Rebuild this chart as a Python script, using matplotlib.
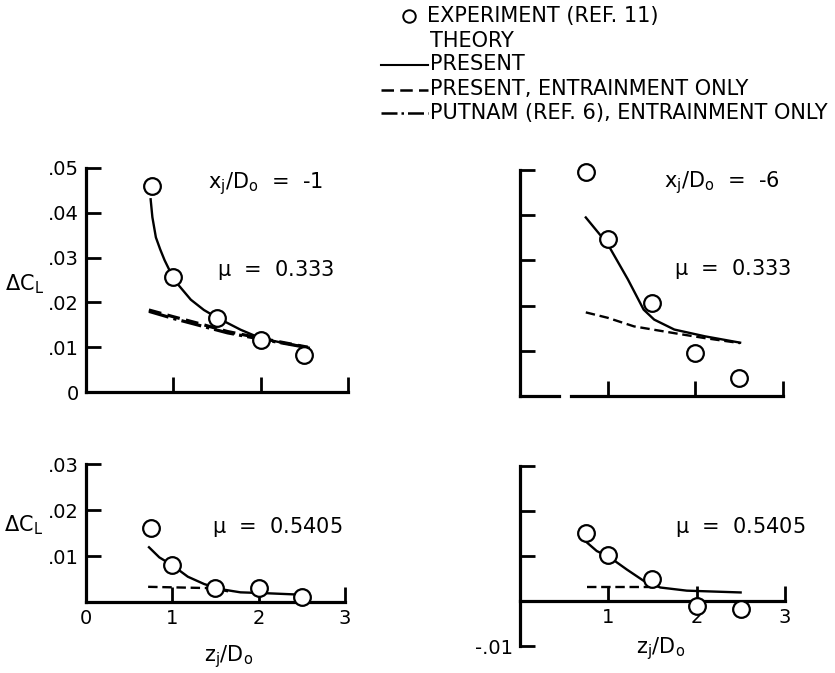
import matplotlib
matplotlib.use("Agg")
import matplotlib.pyplot as plt
from matplotlib.lines import Line2D

plt.rcParams['font.family'] = ['DejaVu Sans']
plt.rcParams['mathtext.default'] = 'regular'

# experiment (ref. 11)
x_exp = [0.75, 1.0, 1.5, 2.0, 2.5]
exp_tl = [0.046, 0.0257, 0.0166, 0.0116, 0.0083]
exp_tr = [0.0495, 0.0347, 0.0205, 0.0095, 0.004]
exp_bl = [0.016, 0.008, 0.003, 0.003, 0.001]
exp_br = [0.015, 0.0103, 0.005, -0.001, -0.0018]

# theory, present (solid)
x_pres_tl = [0.74, 0.76, 0.8, 0.85, 0.9, 0.95, 1.04, 1.2, 1.35, 1.5, 1.77, 2.0, 2.27, 2.55]
pres_tl = [0.043, 0.039, 0.0345, 0.0318, 0.0294, 0.0274, 0.0243, 0.0206, 0.0183, 0.0166, 0.0139, 0.012, 0.0109, 0.0099]
x_pres_tr = [0.75, 1.0, 1.23, 1.41, 1.53, 1.76, 2.11, 2.51]
pres_tr = [0.0395, 0.0336, 0.0258, 0.0191, 0.0169, 0.0147, 0.0132, 0.0118]
x_pres_bl = [0.73, 0.85, 1.0, 1.18, 1.37, 1.56, 1.79, 2.1, 2.48]
pres_bl = [0.0119, 0.0097, 0.008, 0.0055, 0.0039, 0.0028, 0.0021, 0.0019, 0.0016]
x_pres_br = [0.74, 0.87, 1.01, 1.21, 1.4, 1.59, 1.89, 2.5]
pres_br = [0.0133, 0.0111, 0.0098, 0.007, 0.0045, 0.003, 0.0023, 0.0019]

# theory, present, entrainment only (dashed)
x_ent_tl = [0.72, 1.0, 1.31, 1.62, 2.0, 2.54]
ent_tl = [0.0183, 0.0168, 0.0152, 0.0135, 0.012, 0.01]
x_ent_tr = [0.75, 1.0, 1.3, 1.76, 2.11, 2.51]
ent_tr = [0.0185, 0.0173, 0.0154, 0.0139, 0.0128, 0.0117]
x_ent_bl = [0.72, 1.48, 1.7]
ent_bl = [0.0033, 0.003, 0.0021]
x_ent_br = [0.76, 1.48]
ent_br = [0.0032, 0.0032]

# theory, Putnam (ref. 6), entrainment only (dash-dot)
x_put_tl = [0.72, 1.0, 1.31, 1.62, 2.0, 2.54]
put_tl = [0.018, 0.0164, 0.0148, 0.0132, 0.0118, 0.0099]

fig = plt.figure(figsize=(8.35, 6.73), dpi=100)

ax_tl = fig.add_axes([0.103, 0.4175, 0.3138, 0.333])
ax_tr = fig.add_axes([0.6228, 0.4116, 0.315, 0.3358])
ax_bl = fig.add_axes([0.103, 0.1055, 0.310, 0.205])
ax_br = fig.add_axes([0.6228, 0.0401, 0.317, 0.2675])

lw = 1.7
for ax in [ax_tl, ax_tr, ax_bl, ax_br]:
    ax.spines['top'].set_visible(False)
    ax.spines['right'].set_visible(False)
    ax.spines['left'].set_linewidth(2.3)
    ax.spines['bottom'].set_linewidth(2.3)
    ax.tick_params(direction='in', length=11, width=2, labelsize=14, pad=5)
    ax.set_xlim(0, 3)

def exp_points(ax, y):
    ax.plot(x_exp, y, 'o', ms=12, mfc='white', mec='black', mew=1.6, clip_on=False, zorder=5)

# top left
ax_tl.plot(x_pres_tl, pres_tl, '-', color='black', lw=lw)
ax_tl.plot(x_ent_tl, ent_tl, '--', color='black', lw=lw + 0.6, dashes=(4, 2))
ax_tl.plot(x_put_tl, put_tl, '-.', color='black', lw=lw + 0.6)
exp_points(ax_tl, exp_tl)
ax_tl.set_ylim(0, 0.05)
ax_tl.set_yticks([0, 0.01, 0.02, 0.03, 0.04, 0.05])
ax_tl.set_yticklabels(['0', '.01', '.02', '.03', '.04', '.05'])
ax_tl.set_xticks([1, 2, 3])
ax_tl.set_xticklabels([])
ax_tl.set_ylabel(r'$\Delta C_L$', rotation=0, fontsize=15)
ax_tl.yaxis.set_label_coords(-0.235, 0.43)
ax_tl.text(1.4, 0.0465, r'$x_j/D_o$  =  -1', fontsize=15, va='center')
ax_tl.text(1.5, 0.0273, r'$\mu$  =  0.333', fontsize=15, va='center')

# top right
ax_tr.plot(x_pres_tr, pres_tr, '-', color='black', lw=lw)
ax_tr.plot(x_ent_tr, ent_tr, '--', color='black', lw=lw, dashes=(4, 2))
exp_points(ax_tr, exp_tr)
ax_tr.set_ylim(0, 0.05)
ax_tr.set_yticks([0.01, 0.02, 0.03, 0.04, 0.05])
ax_tr.set_yticklabels([])
ax_tr.set_xticks([1, 2, 3])
ax_tr.set_xticklabels([])
ax_tr.spines['bottom'].set_bounds(0.58, 3)
ax_tr.axhline(0, xmin=0, xmax=0.15, color='black', lw=2.3, clip_on=False)
ax_tr.text(1.64, 0.0473, r'$x_j/D_o$  =  -6', fontsize=15, va='center')
ax_tr.text(1.76, 0.028, r'$\mu$  =  0.333', fontsize=15, va='center')

# bottom left
ax_bl.plot(x_pres_bl, pres_bl, '-', color='black', lw=lw)
ax_bl.plot(x_ent_bl, ent_bl, '--', color='black', lw=lw, dashes=(4, 2))
exp_points(ax_bl, exp_bl)
ax_bl.set_ylim(0, 0.03)
ax_bl.set_yticks([0.01, 0.02, 0.03])
ax_bl.set_yticklabels(['.01', '.02', '.03'])
ax_bl.set_xticks([0, 1, 2, 3])
ax_bl.set_xticklabels(['0', '1', '2', '3'])
ax_bl.set_ylabel(r'$\Delta C_L$', rotation=0, fontsize=15)
ax_bl.yaxis.set_label_coords(-0.24, 0.47)
ax_bl.set_xlabel(r'$z_j/D_o$', fontsize=15)
ax_bl.xaxis.set_label_coords(0.55, -0.3)
ax_bl.text(1.46, 0.0163, r'$\mu$  =  0.5405', fontsize=15, va='center')

# bottom right
ax_br.plot(x_pres_br, pres_br, '-', color='black', lw=lw)
ax_br.plot(x_ent_br, ent_br, '--', color='black', lw=lw, dashes=(4, 2))
exp_points(ax_br, exp_br)
ax_br.set_ylim(-0.01, 0.03)
ax_br.spines['bottom'].set_position(('data', 0))
ax_br.set_yticks([-0.01, 0.01, 0.02, 0.03])
ax_br.set_yticklabels(['-.01', '', '', ''])
ax_br.set_xticks([1, 2, 3])
ax_br.set_xticklabels(['1', '2', '3'])
ax_br.set_xlabel(r'$z_j/D_o$', fontsize=15)
ax_br.xaxis.set_label_coords(0.53, 0.06)
ax_br.text(1.76, 0.0165, r'$\mu$  =  0.5405', fontsize=15, va='center')

# key at top
W, H = 835, 673
def fx(px):
    return px / W
def fy(py):
    return 1 - py / H

fig.add_artist(Line2D([fx(409)], [fy(16)], marker='o', ms=9, mfc='white', mec='black', mew=1.4))
fig.text(fx(427), fy(16), 'EXPERIMENT (REF. 11)', fontsize=15, va='center')
fig.text(fx(430), fy(41), 'THEORY', fontsize=15, va='center')
fig.add_artist(Line2D([fx(381), fx(428)], [fy(65), fy(65)], color='black', lw=1.5))
fig.text(fx(430), fy(64), 'PRESENT', fontsize=15, va='center')
fig.add_artist(Line2D([fx(381), fx(428)], [fy(90), fy(90)], color='black', lw=1.8, ls='--', dashes=(5, 2.5)))
fig.text(fx(430), fy(89), 'PRESENT, ENTRAINMENT ONLY', fontsize=15, va='center')
fig.add_artist(Line2D([fx(381), fx(428)], [fy(113), fy(113)], color='black', lw=1.8, ls='-.'))
fig.text(fx(430), fy(113), 'PUTNAM (REF. 6), ENTRAINMENT ONLY', fontsize=15, va='center')

fig.savefig('out.png', dpi=100)
